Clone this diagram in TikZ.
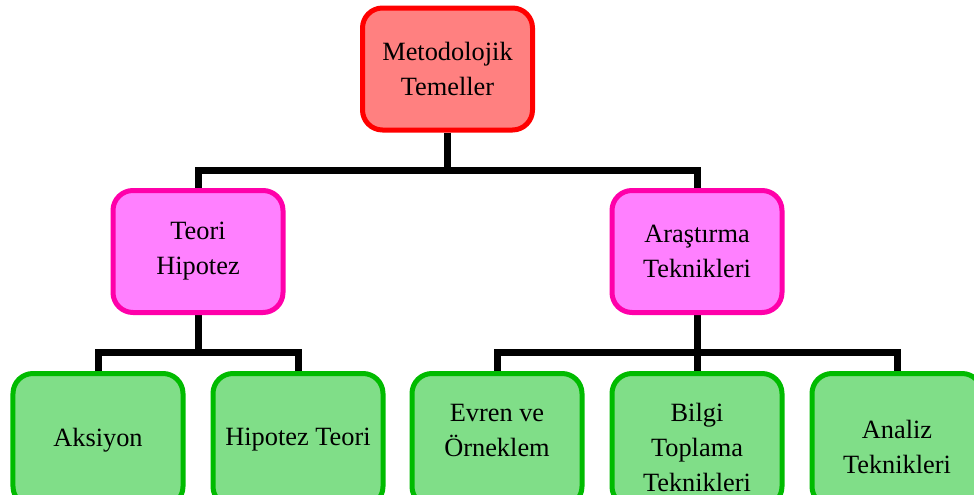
\documentclass[tikz,border=0pt]{standalone}
\usepackage{fontspec}
\setmainfont{Liberation Serif}
\usetikzlibrary{positioning, backgrounds}

\definecolor{kokdolgu}{RGB}{255,128,128}
\definecolor{kokcizgi}{RGB}{255,0,0}
\definecolor{ortadolgu}{RGB}{255,128,255}
\definecolor{ortacizgi}{RGB}{255,0,170}
\definecolor{yaprakdolgu}{RGB}{128,222,136}
\definecolor{yaprakcizgi}{RGB}{0,187,0}

\newcommand{\ustbosluk}{\rule{0pt}{0.66cm}}

\tikzset{
  kutu/.style={rounded corners=0.4cm, line width=0.1cm, align=center,
    minimum width=3.4cm, minimum height=2.44cm,
    font=\fontsize{15pt}{20pt}\selectfont},
  kok/.style={kutu, draw=kokcizgi, fill=kokdolgu},
  orta/.style={kutu, draw=ortacizgi, fill=ortadolgu},
  yaprak/.style={kutu, draw=yaprakcizgi, fill=yaprakdolgu, minimum height=2.66cm},
  agac/.style={line width=0.14cm, draw=black}
}

\begin{document}
\begin{tikzpicture}[node distance=2cm, on grid]
  \useasboundingbox (0,0) rectangle (19.48,-9.9);
  \clip (0,0) rectangle (19.48,-9.9);
  \node[kok] (m0) at (8.95,-1.38) {Metodolojik\\Temeller};
  \node[orta] (m1) [below left=3.65cm and 4.99cm of m0] {Teori\\Hipotez};
  \node[orta] (m2) [below right=3.65cm and 4.99cm of m0] {Araştırma\\Teknikleri};
  \node[yaprak] (m3) [below left=3.77cm and 2cm of m1] {Aksiyon};
  \node[yaprak] (m4) [below right=3.77cm and 2cm of m1] {Hipotez Teori};
  \node[yaprak] (m5) [below left=3.77cm and 4cm of m2] {\ustbosluk Evren ve\\Örneklem\\~};
  \node[yaprak] (m6) [below=3.77cm of m2] {\ustbosluk Bilgi\\Toplama\\Teknikleri};
  \node[yaprak] (m7) [below right=3.77cm and 4cm of m2] {\ustbosluk Analiz\\Teknikleri};
  \coordinate (b0) at ([yshift=-0.76cm]m0.south);
  \coordinate (b1) at ([yshift=-0.75cm]m1.south);
  \coordinate (b2) at ([yshift=-0.75cm]m2.south);
  \begin{scope}[on background layer]
  \path[agac]
(m0.south) -- (b0)
(b0) -| (m1.north)
(b0) -| (m2.north)
(m1.south) -- (b1)
(b1) -| (m3.north)
(b1) -| (m4.north)
(m2.south) -- (m6.north)
(b2) -| (m5.north)
(b2) -| (m7.north)
  ;
  \end{scope}
\end{tikzpicture}
\end{document}
